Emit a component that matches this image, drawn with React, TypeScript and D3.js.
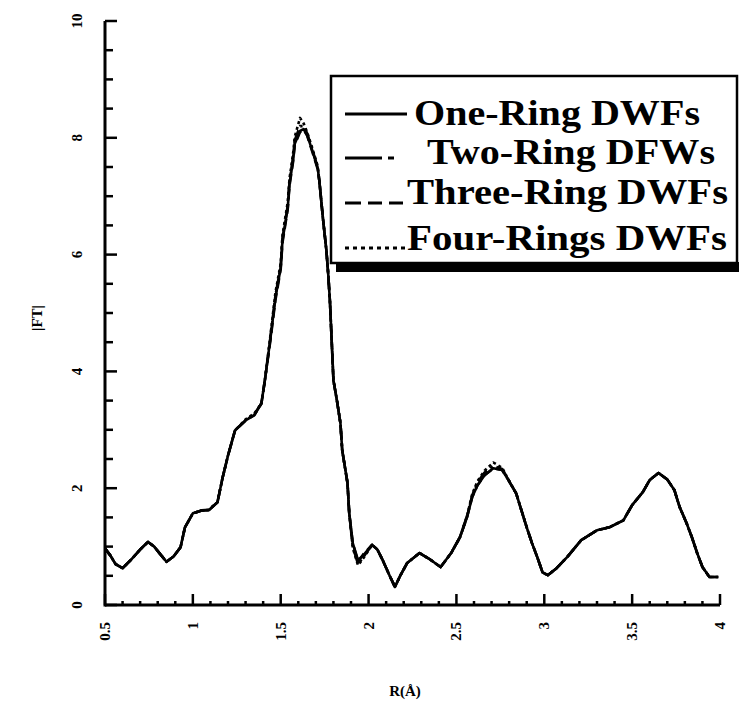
import React from "react";
import * as d3 from "d3";

// Shared R grid (Å)
const R = [
  0.5, 0.53, 0.56, 0.6, 0.65, 0.7, 0.745, 0.78, 0.82, 0.85, 0.89, 0.93, 0.955, 1.0, 1.05, 1.09, 1.14, 1.17, 1.2,
  1.24, 1.3, 1.35, 1.39, 1.41, 1.44, 1.47, 1.5, 1.51, 1.54, 1.55, 1.57, 1.58, 1.61, 1.63, 1.65, 1.68, 1.71, 1.72,
  1.74, 1.76, 1.77, 1.78, 1.8, 1.82, 1.84, 1.85, 1.88, 1.89, 1.91, 1.94, 1.97, 2.02, 2.05, 2.08, 2.12, 2.15, 2.18,
  2.22, 2.29, 2.35, 2.41, 2.47, 2.52, 2.56, 2.59, 2.62, 2.66, 2.71, 2.76, 2.79, 2.84, 2.87, 2.9, 2.93, 2.96, 2.99,
  3.02, 3.07, 3.13, 3.21, 3.3, 3.37, 3.45, 3.5, 3.56, 3.6, 3.65, 3.7, 3.74, 3.77, 3.81, 3.84, 3.87, 3.9, 3.94, 3.99,
];

const oneRing = [
  0.97, 0.85, 0.7, 0.63, 0.78, 0.95, 1.08, 1.0, 0.85, 0.74, 0.83, 0.99, 1.33, 1.57, 1.62, 1.62, 1.76, 2.19, 2.56,
  2.99, 3.16, 3.25, 3.45, 3.85, 4.53, 5.26, 5.78, 6.24, 6.8, 7.21, 7.61, 7.9, 8.12, 8.15, 8.05, 7.78, 7.49, 7.26,
  6.63, 6.07, 5.68, 5.21, 3.85, 3.5, 3.11, 2.65, 2.09, 1.57, 1.06, 0.77, 0.85, 1.03, 0.95, 0.77, 0.5, 0.31, 0.5,
  0.72, 0.89, 0.78, 0.65, 0.89, 1.16, 1.5, 1.85, 2.05, 2.22, 2.34, 2.31, 2.17, 1.91, 1.62, 1.33, 1.06, 0.82, 0.56,
  0.51, 0.63, 0.82, 1.11, 1.28, 1.33, 1.45, 1.71, 1.93, 2.14, 2.26, 2.15, 1.97, 1.68, 1.4, 1.16, 0.89, 0.65, 0.48, 0.48,
];

const twoRing = [
  0.97, 0.85, 0.7, 0.63, 0.78, 0.95, 1.08, 1.0, 0.85, 0.74, 0.83, 0.99, 1.33, 1.57, 1.62, 1.63, 1.76, 2.19, 2.56,
  2.99, 3.16, 3.27, 3.45, 3.85, 4.55, 5.3, 5.8, 6.28, 6.84, 7.25, 7.66, 7.96, 8.2, 8.2, 8.08, 7.8, 7.5, 7.26,
  6.63, 6.07, 5.68, 5.21, 3.85, 3.5, 3.11, 2.65, 2.09, 1.57, 1.0, 0.7, 0.82, 1.03, 0.95, 0.77, 0.5, 0.31, 0.5,
  0.72, 0.89, 0.78, 0.65, 0.89, 1.16, 1.52, 1.88, 2.1, 2.27, 2.38, 2.33, 2.18, 1.91, 1.62, 1.33, 1.06, 0.82, 0.56,
  0.51, 0.63, 0.82, 1.11, 1.28, 1.33, 1.45, 1.71, 1.93, 2.14, 2.26, 2.15, 1.97, 1.68, 1.4, 1.16, 0.89, 0.65, 0.48, 0.48,
];

const threeRing = [
  0.97, 0.85, 0.7, 0.63, 0.78, 0.95, 1.08, 1.0, 0.85, 0.74, 0.83, 0.99, 1.33, 1.57, 1.62, 1.62, 1.76, 2.19, 2.56,
  2.99, 3.16, 3.25, 3.45, 3.85, 4.5, 5.22, 5.75, 6.2, 6.78, 7.18, 7.58, 7.88, 8.1, 8.14, 8.04, 7.76, 7.47, 7.26,
  6.63, 6.07, 5.68, 5.21, 3.85, 3.5, 3.11, 2.65, 2.09, 1.57, 1.06, 0.74, 0.87, 1.03, 0.95, 0.77, 0.5, 0.31, 0.5,
  0.72, 0.89, 0.78, 0.65, 0.89, 1.16, 1.5, 1.85, 2.05, 2.22, 2.34, 2.31, 2.17, 1.91, 1.62, 1.33, 1.06, 0.82, 0.56,
  0.51, 0.63, 0.82, 1.11, 1.28, 1.33, 1.45, 1.71, 1.93, 2.14, 2.26, 2.15, 1.97, 1.68, 1.4, 1.16, 0.89, 0.65, 0.48, 0.48,
];

const fourRings = [
  0.97, 0.85, 0.7, 0.63, 0.78, 0.95, 1.08, 1.0, 0.85, 0.74, 0.83, 0.99, 1.33, 1.57, 1.62, 1.63, 1.76, 2.19, 2.56,
  2.99, 3.18, 3.28, 3.45, 3.85, 4.58, 5.35, 5.85, 6.33, 6.9, 7.3, 7.72, 8.02, 8.34, 8.25, 8.1, 7.82, 7.52, 7.26,
  6.63, 6.07, 5.68, 5.21, 3.85, 3.5, 3.11, 2.65, 2.09, 1.57, 0.98, 0.68, 0.8, 1.03, 0.95, 0.77, 0.5, 0.31, 0.5,
  0.72, 0.89, 0.78, 0.65, 0.89, 1.16, 1.52, 1.9, 2.12, 2.3, 2.44, 2.35, 2.18, 1.91, 1.62, 1.33, 1.06, 0.82, 0.56,
  0.51, 0.63, 0.82, 1.11, 1.28, 1.33, 1.45, 1.71, 1.93, 2.14, 2.26, 2.15, 1.97, 1.68, 1.4, 1.16, 0.89, 0.65, 0.48, 0.48,
];

const seriesNames = ["One-Ring DWFs", "Two-Ring DFWs", "Three-Ring DWFs", "Four-Rings DWFs"];
const seriesValues = [oneRing, twoRing, threeRing, fourRings];
const seriesDash = ["", "14,4,3,4", "10,5", "3,3"];

const xTickValues = [0.5, 1, 1.5, 2, 2.5, 3, 3.5, 4];
const xTickLabels = ["0.5", "1", "1.5", "2", "2.5", "3", "3.5", "4"];
const yTickValues = [0, 2, 4, 6, 8, 10];
const yTickLabels = ["0", "2", "4", "6", "8", "10"];

const W = 739;
const H = 705;
const FONT = "'Liberation Serif', 'Times New Roman', serif";

export default function App() {
  const x = d3.scaleLinear().domain([0.5, 4]).range([105, 720]);
  const y = d3.scaleLinear().domain([0, 10]).range([605, 21]);

  const xMinor = d3.range(5, 41).map((d) => d / 10);
  const yMinor = d3.range(0, 21).map((d) => d / 2);

  const line = d3
    .line<number>()
    .x((_, i) => x(R[i]))
    .y((d) => y(d))
    .curve(d3.curveLinear);

  const legendRows = [
    { baseline: 125, textX: 414, width: 286, lineY: 114 },
    { baseline: 164, textX: 427, width: 288, lineY: 158 },
    { baseline: 204, textX: 407, width: 321, lineY: 203 },
    { baseline: 250, textX: 407, width: 320, lineY: 248 },
  ];
  const legendDash = ["", "37,6,6,100", "16,7,14,7,14,6,2,100", "4,4"];

  return (
    <svg
      width={W}
      height={H}
      style={{ position: "absolute", left: 0, top: 0, background: "#fff" }}
      fontFamily={FONT}
    >
      <rect x={0} y={0} width={W} height={H} fill="#fff" />

      {/* data lines */}
      {seriesValues.map((vals, si) => (
        <path
          key={si}
          d={line(vals) || ""}
          fill="none"
          stroke="#000"
          strokeWidth={2.6}
          strokeDasharray={seriesDash[si] || undefined}
          strokeLinejoin="round"
        />
      ))}

      {/* x axis */}
      <line x1={x(0.5)} x2={x(4)} y1={y(0)} y2={y(0)} stroke="#000" strokeWidth={3} />
      {xMinor.map((t) => {
        const major = Math.abs(t * 2 - Math.round(t * 2)) < 1e-6;
        return (
          <line
            key={"xm" + t}
            x1={x(t)}
            x2={x(t)}
            y1={y(0)}
            y2={y(0) - (major ? 11 : 4)}
            stroke="#000"
            strokeWidth={2.5}
          />
        );
      })}
      {xTickValues.map((t, i) => (
        <text
          key={"xt" + t}
          transform={`translate(${x(t) + 5},622) rotate(-90)`}
          textAnchor="end"
          fontSize={15}
          fontWeight="bold"
        >
          {xTickLabels[i]}
        </text>
      ))}

      {/* y axis */}
      <line x1={x(0.5)} x2={x(0.5)} y1={y(0) + 1.5} y2={y(10)} stroke="#000" strokeWidth={3} />
      {yMinor.map((t) => {
        const major = Math.abs(t / 2 - Math.round(t / 2)) < 1e-6;
        return (
          <line
            key={"ym" + t}
            x1={x(0.5)}
            x2={x(0.5) + (major ? 12 : 8)}
            y1={y(t)}
            y2={y(t)}
            stroke="#000"
            strokeWidth={2.5}
          />
        );
      })}
      {yTickValues.map((t, i) => (
        <text
          key={"yt" + t}
          transform={`translate(82,${y(t)}) rotate(-90)`}
          textAnchor="middle"
          fontSize={15}
          fontWeight="bold"
        >
          {yTickLabels[i]}
        </text>
      ))}

      {/* axis titles */}
      <text x={405} y={696} textAnchor="middle" fontSize={15} fontWeight="bold">
        R(Å)
      </text>
      <text transform="translate(42,318) rotate(-90)" textAnchor="middle" fontSize={15} fontWeight="bold">
        |FT|
      </text>

      {/* legend */}
      <rect x={336} y={262} width={410} height={10} fill="#000" />
      <rect x={331} y={76} width={406} height={187} fill="#fff" stroke="#000" strokeWidth={2.5} />
      {seriesNames.map((name, i) => (
        <g key={"lg" + i}>
          <line
            x1={345}
            x2={407}
            y1={legendRows[i].lineY}
            y2={legendRows[i].lineY}
            stroke="#000"
            strokeWidth={3}
            strokeDasharray={legendDash[i] || undefined}
          />
          <text
            x={legendRows[i].textX}
            y={legendRows[i].baseline}
            fontSize={35}
            fontWeight="bold"
            textLength={legendRows[i].width}
            lengthAdjust="spacingAndGlyphs"
          >
            {name}
          </text>
        </g>
      ))}
    </svg>
  );
}
